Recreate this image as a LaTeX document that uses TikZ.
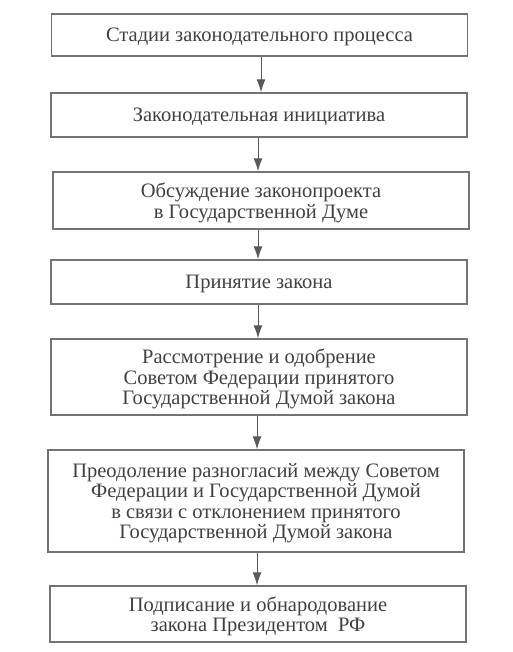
\documentclass[tikz,border=0pt]{standalone}
\usepackage{fontspec}
\setmainfont{Liberation Serif}
\usepackage{tikz}
\usetikzlibrary{shapes, arrows.meta, positioning}

\begin{document}
\begin{tikzpicture}[-{Latex[length=13pt,width=9pt]}, line width=1pt, x=1pt, y=-1pt,
    stage/.style={rectangle, draw=black!55, line width=1.4pt, minimum width=416pt, align=center, text=black!75,
        font=\fontsize{20.5}{20.5}\selectfont, inner sep=0pt, text depth=0pt}]
        \useasboundingbox (0,0) rectangle (512,652);
        \node [stage, minimum height=42pt] (stages) at (259.5, 35) {Стадии законодательного процесса};
        \node [stage, minimum height=44pt] (initiative) at (259, 115) {Законодательная инициатива};
        \node [stage, minimum height=57pt] (discussion) at (261, 200.5) {Обсуждение законопроекта\\в Государственной Думе};
        \node [stage, minimum height=44pt] (adoption) at (259, 282) {Принятие закона};
        \node [stage, minimum height=76pt] (council) at (259, 377) {Рассмотрение и одобрение\\Советом Федерации принятого\\Государственной Думой закона};
        \node [stage, minimum height=102pt] (disagree) at (256, 501) {Преодоление разногласий между Советом\\Федерации и Государственной Думой\\в связи с отклонением принятого\\Государственной Думой закона};
        \node [stage, minimum height=56pt] (signing) at (258, 614) {Подписание и обнародование\\закона Президентом~~РФ};
        \path [draw=black!65] (stages.south -| 261,0) -- (initiative.north -| 261,0);
        \path [draw=black!65] (initiative.south -| 258,0) -- (discussion.north -| 258,0);
        \path [draw=black!65] (discussion.south -| 258,0) -- (adoption.north -| 258,0);
        \path [draw=black!65] (adoption.south -| 258,0) -- (council.north -| 258,0);
        \path [draw=black!65] (council.south -| 257,0) -- (disagree.north -| 257,0);
        \path [draw=black!65] (disagree.south -| 257,0) -- (signing.north -| 257,0);
    \end{tikzpicture}
\end{document}
